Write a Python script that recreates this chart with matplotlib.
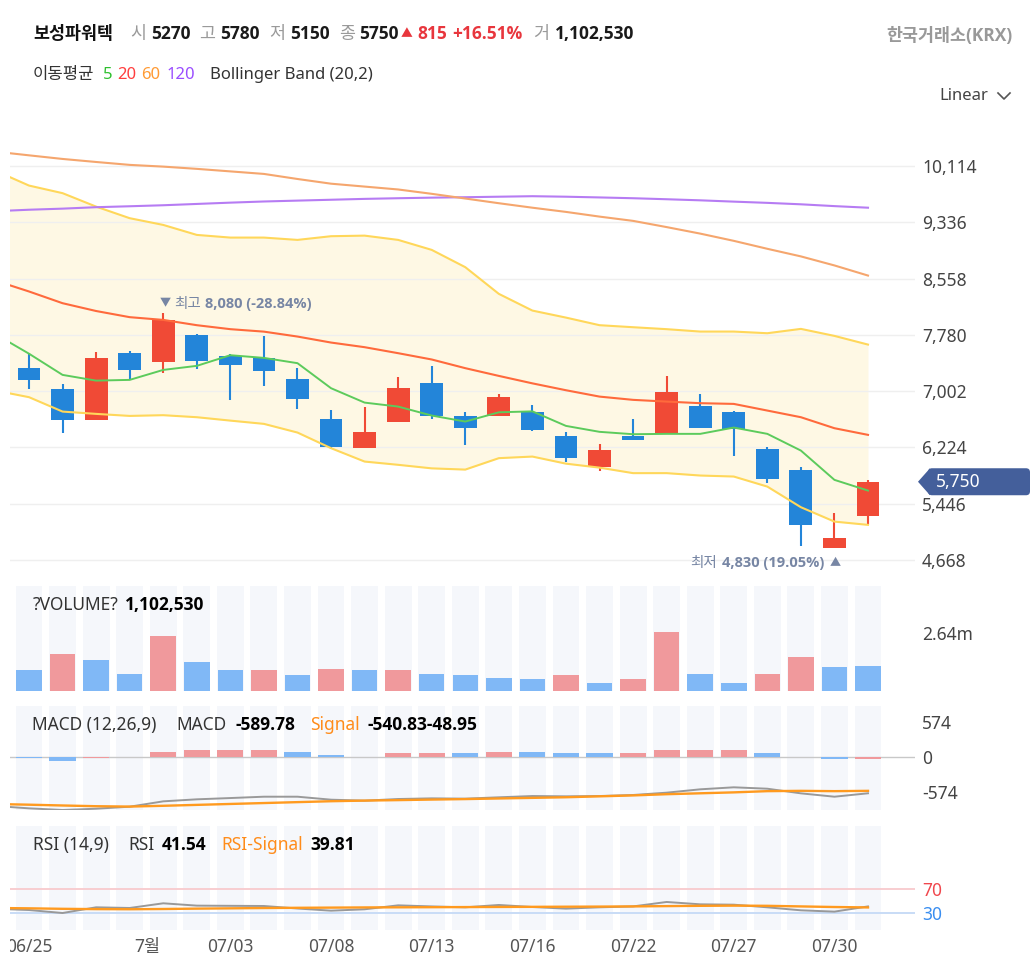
import numpy as np
import matplotlib
matplotlib.use('Agg')
import matplotlib.pyplot as plt
from matplotlib.patches import FancyBboxPatch, Polygon
from matplotlib.lines import Line2D
from matplotlib.transforms import Bbox

plt.rcParams['font.family'] = ['Noto Sans', 'Noto Sans CJK KR', 'DejaVu Sans']
BOLD_FAMILY = ['Open Sans', 'Noto Sans CJK KR', 'DejaVu Sans']

# ---------------- data ----------------
x_labels = ['06/25', '7월', '07/03', '07/08', '07/13', '07/16', '07/22', '07/27', '07/30']
x_label_pos = [0, 3.52, 6, 9, 12, 15, 18, 21, 24]

opens  = [7320, 7030, 6601, 7527, 7407, 7776, 7494, 7462, 7168, 6615, 6212, 6573, 7112,
          6656, 6656, 6717, 6383, 5949, 6383, 6408, 6799, 6716, 6203, 5910, 4840, 5270]
highs  = [7535, 7107, 7541, 7559, 8080, 7794, 7510, 7762, 7328, 6740, 6780, 7200, 7352,
          6717, 6969, 6813, 6438, 6273, 6615, 7209, 6965, 6730, 6231, 5947, 5317, 5780]
lows   = [7038, 6419, 6601, 7154, 7251, 7306, 6882, 7079, 6754, 6205, 6212, 6573, 6615,
          6264, 6656, 6457, 6024, 5894, 6328, 6408, 6495, 6103, 5738, 4860, 4830, 5150]
closes = [7154, 6601, 7462, 7301, 7983, 7425, 7361, 7278, 6892, 6237, 6442, 7048, 6656,
          6490, 6923, 6472, 6079, 6194, 6328, 6988, 6495, 6477, 5793, 5150, 4970, 5750]

volumes = [928000, 1670000, 1400000, 774000, 2490000, 1320000, 928000, 928000, 715000,
           988000, 928000, 928000, 774000, 715000, 578000, 519000, 715000, 364000, 519000,
           2690000, 774000, 364000, 774000, 1530000, 1100000, 1102530]
volume_up = [0, 1, 0, 0, 1, 0, 0, 1, 0, 1, 0, 1, 0, 0, 0, 0, 1, 0, 1, 1, 0, 0, 1, 1, 0, 0]

macd_hist = [-16, -66, -16, 0, 82, 104, 104, 104, 77, 33, 0, 55, 55, 55, 77, 77, 55, 55,
             55, 104, 104, 104, 55, 0, -44, -30]
macd_hist_up = [0, 0, 1, 0, 1, 1, 1, 1, 0, 0, 0, 1, 1, 0, 1, 0, 0, 0, 1, 1, 1, 1, 0, 0, 0, 1]

# line series start one session before the first visible candle (index -1)
macd_line = [-808, -847, -874, -853, -820, -732, -699, -678, -656, -656, -705, -721, -694,
             -683, -688, -666, -645, -650, -645, -628, -590, -535, -502, -525, -601, -656, -600]
signal_line = [-776, -787, -800, -812, -818, -805, -790, -775, -760, -745, -730, -720, -712,
               -703, -695, -685, -675, -665, -650, -635, -615, -600, -585, -565, -560, -565, -560]
rsi_line = [37.5, 35.5, 30.5, 40, 38.9, 46.7, 42.8, 42.5, 42.2, 38, 34.4, 36.7, 43.3, 41.5,
            40, 43.9, 40.5, 37.8, 40, 41.5, 48.9, 45, 44.4, 40, 35, 32.8, 41.5]
rsi_signal = [38.9, 38.3, 37.5, 37.0, 36.8, 37.2, 37.8, 38.3, 38.8, 39.2, 39.5, 39.8, 40,
              40.2, 40.4, 40.6, 40.8, 41, 41.2, 41.5, 42, 42.5, 42.8, 42.5, 41.5, 40.5, 39.8]

ma5   = [7790, 7520, 7227, 7148, 7158, 7296, 7352, 7499, 7462, 7389, 7043, 6844, 6789, 6665,
         6582, 6710, 6723, 6522, 6440, 6407, 6412, 6412, 6499, 6412, 6181, 5776, 5628]
ma20  = [8530, 8380, 8218, 8110, 8025, 7987, 7914, 7859, 7825, 7757, 7674, 7610, 7527, 7440,
         7320, 7213, 7110, 7015, 6927, 6882, 6858, 6836, 6826, 6734, 6642, 6490, 6398]
ma60  = [10313, 10262, 10212, 10170, 10130, 10106, 10075, 10040, 10005, 9935, 9870, 9830,
         9790, 9730, 9665, 9600, 9538, 9480, 9415, 9356, 9270, 9180, 9080, 8970, 8865, 8740, 8600]
ma120 = [9490, 9510, 9525, 9545, 9558, 9572, 9590, 9608, 9624, 9636, 9648, 9660, 9669, 9677,
         9683, 9690, 9697, 9690, 9680, 9669, 9655, 9640, 9622, 9605, 9585, 9560, 9538]
bb_upper = [10049, 9844, 9739, 9553, 9393, 9300, 9162, 9125, 9125, 9093, 9144, 9152, 9093,
            8955, 8716, 8347, 8116, 8019, 7914, 7886, 7859, 7826, 7826, 7803, 7863, 7766, 7646]
bb_lower = [7010, 6919, 6720, 6688, 6660, 6670, 6642, 6595, 6550, 6430, 6214, 6029, 5984,
            5935, 5918, 6076, 6098, 6000, 5945, 5869, 5869, 5836, 5822, 5683, 5398, 5199, 5154]

price_ticks = [4668, 5446, 6224, 7002, 7780, 8558, 9336, 10114]
volume_ticks = [2640000]
volume_tick_labels = ['2.64m']
macd_ticks = [574, 0, -574]
rsi_ticks = [70, 30]

# ---------------- styling ----------------
RED = '#f04a36'
BLUE = '#2385d9'
VRED = '#f0999c'
VBLUE = '#80b8f6'
STRIPE = '#f5f7fb'
W, H = 1033, 968

fig = plt.figure(figsize=(W / 100, H / 100), dpi=100)
fig.patch.set_facecolor('white')

LEFT_PX, RIGHT_PX = 10, 915
X0_PX, STEP_PX = 29.0, 33.56
xlim = ((LEFT_PX - X0_PX) / STEP_PX, (RIGHT_PX - X0_PX) / STEP_PX)


def add_ax(top, bottom):
    a = fig.add_axes([LEFT_PX / W, 1 - bottom / H, (RIGHT_PX - LEFT_PX) / W, (bottom - top) / H])
    a.set_xlim(*xlim)
    for s in a.spines.values():
        s.set_visible(False)
    a.yaxis.tick_right()
    a.tick_params(axis='y', length=0, pad=5, labelsize=12.5, labelcolor='#444')
    a.tick_params(axis='x', length=0)
    a.set_xticks([])
    return a


n = len(closes)
idx = np.arange(n)
idx_ext = np.arange(-1, n)

# ---- main price panel ----
ax = add_ax(135, 575)
ax.set_ylim(4461, 10543)
ax.set_yticks(price_ticks)
ax.set_yticklabels([f'{v:,}' for v in price_ticks])
for v in price_ticks:
    ax.axhline(v, color='#efefef', lw=1, zorder=1.5)
ax.fill_between(idx_ext, bb_lower, bb_upper, color='#fef8e4', lw=0, zorder=1)

cols = [RED if c >= o else BLUE for o, c in zip(opens, closes)]
ax.vlines(idx, lows, highs, colors=cols, lw=1.5, zorder=2)
bottoms = [min(o, c) for o, c in zip(opens, closes)]
heights = [max(abs(c - o), 40) for o, c in zip(opens, closes)]
ax.bar(idx, heights, bottom=bottoms, width=0.68, color=cols, zorder=3)

ax.plot(idx_ext, bb_upper, color='#ffd75a', lw=1.5, zorder=4)
ax.plot(idx_ext, bb_lower, color='#ffd75a', lw=1.5, zorder=4)
ax.plot(idx_ext, ma120, color='#b67cf3', lw=1.5, zorder=4)
ax.plot(idx_ext, ma60, color='#f5a66e', lw=1.5, zorder=4)
ax.plot(idx_ext, ma20, color='#ff6a3c', lw=1.5, zorder=4)
ax.plot(idx_ext, ma5, color='#5ccb5c', lw=1.4, zorder=4)

# ---- volume panel ----
axv = add_ax(586, 690.7)
axv.set_ylim(0, 4.766e6)
for i in idx:
    axv.axvspan(i - 0.40, i + 0.40, color=STRIPE, lw=0, zorder=0)
axv.bar(idx, volumes, width=0.76, color=[VRED if u else VBLUE for u in volume_up], zorder=2)
axv.set_yticks(volume_ticks)
axv.set_yticklabels(volume_tick_labels)

# ---- MACD panel ----
axm = add_ax(706, 810)
axm.set_ylim(-874, 831)
for i in idx:
    axm.axvspan(i - 0.40, i + 0.40, color=STRIPE, lw=0, zorder=0)
axm.axhline(0, color='#c8c8c8', lw=1, zorder=1)
axm.bar(idx, macd_hist, width=0.78, color=[VRED if u else VBLUE for u in macd_hist_up], zorder=2)
axm.plot(idx_ext, macd_line, color='#999999', lw=1.4, zorder=3)
axm.plot(idx_ext, signal_line, color='#ff9a1f', lw=1.7, zorder=4)
axm.set_yticks(macd_ticks)
axm.set_yticklabels([str(v) for v in macd_ticks])

# ---- RSI panel ----
axr = add_ax(826, 930)
axr.set_ylim(2.2, 175.5)
for i in idx:
    axr.axvspan(i - 0.40, i + 0.40, color=STRIPE, lw=0, zorder=0)
axr.axhline(70, color='#f8cdd0', lw=1.4, zorder=1)
axr.axhline(30, color='#c8dcf6', lw=1.4, zorder=1)
axr.plot(idx_ext, rsi_line, color='#999999', lw=1.4, zorder=3)
axr.plot(idx_ext, rsi_signal, color='#ff9a1f', lw=1.7, zorder=4)
axr.set_yticks(rsi_ticks)
axr.set_yticklabels([str(v) for v in rsi_ticks])
for lbl, c in zip(axr.get_yticklabels(), ['#f0474d', '#3a8ef0']):
    lbl.set_color(c)
axr.set_xticks(x_label_pos)
axr.set_xticklabels(x_labels)
axr.tick_params(axis='x', length=0, pad=6, labelsize=12.5, labelcolor='#555')
clipbox = Bbox.from_extents(LEFT_PX, 0, W, H)
for lbl in axr.get_xticklabels():
    lbl.set_clip_box(clipbox)
    lbl.set_clip_on(True)

# ---------------- overlay for texts ----------------
ov = fig.add_axes([0, 0, 1, 1], zorder=10)
ov.set_xlim(0, W)
ov.set_ylim(H, 0)
ov.axis('off')
ov.patch.set_visible(False)
renderer = fig.canvas.get_renderer()


def run(x, y, pieces, ha='left'):
    made = []
    for s, kw, gap in pieces:
        kw = dict(kw)
        if kw.get('fontweight') == 'bold':
            kw['family'] = BOLD_FAMILY
        t = ov.text(0, y, s, ha='left', va='center', **kw)
        w = t.get_window_extent(renderer).width
        made.append((t, w, gap))
    total = sum(w for _, w, _ in made) + sum(g for _, _, g in made[:-1])
    cur = x if ha == 'left' else x - total
    for t, w, g in made:
        t.set_x(cur)
        cur += w + g


def to_px(a, x, y):
    d = a.transData.transform((x, y))
    return d[0], H - d[1]


GREY = '#9a9a9a'
DARK = '#1a1a1a'
TXT = '#333333'
HR = '#e8363d'
b = dict(fontweight='bold')

run(33, 34, [
    ('보성파워텍', dict(fontsize=12.5, color='#111', fontweight='bold'), 17),
    ('시', dict(fontsize=12.5, color=GREY), 5),
    ('5270', dict(fontsize=12.5, color=DARK, **b), 9),
    ('고', dict(fontsize=12.5, color=GREY), 5),
    ('5780', dict(fontsize=12.5, color=DARK, **b), 9),
    ('저', dict(fontsize=12.5, color=GREY), 5),
    ('5150', dict(fontsize=12.5, color=DARK, **b), 9),
    ('종', dict(fontsize=12.5, color=GREY), 5),
    ('5750', dict(fontsize=12.5, color=DARK, **b), 2),
    ('▲', dict(fontsize=8.5, color=HR), 5),
    ('815', dict(fontsize=12.5, color=HR, **b), 5),
    ('+16.51%', dict(fontsize=12.5, color=HR, **b), 10),
    ('거', dict(fontsize=12.5, color=GREY), 6),
    ('1,102,530', dict(fontsize=12.5, color=DARK, **b), 0),
])
ov.text(1013, 36, '한국거래소(KRX)', ha='right', va='center', fontsize=12.5, color='#999999',
        fontweight='bold', family=BOLD_FAMILY)

run(33, 75, [
    ('이동평균', dict(fontsize=12, color=TXT), 8),
    ('5', dict(fontsize=12, color='#2fc02f'), 5),
    ('20', dict(fontsize=12, color='#ff3e3e'), 5),
    ('60', dict(fontsize=12, color='#ff9a33'), 6),
    ('120', dict(fontsize=12, color='#9a4dff'), 15),
    ('Bollinger Band (20,2)', dict(fontsize=12, color=TXT), 0),
])
ov.text(939, 96, 'Linear', ha='left', va='center', fontsize=12, color='#444')
ov.add_line(Line2D([998, 1004, 1010], [93, 99, 93], color='#555', lw=1.2))

run(33, 605, [
    ('?VOLUME?', dict(fontsize=12.5, color=TXT), 6),
    ('1,102,530', dict(fontsize=12.5, color='#000', **b), 0),
])
run(32, 725, [
    ('MACD (12,26,9)', dict(fontsize=12.5, color=TXT), 20),
    ('MACD', dict(fontsize=12.5, color=TXT), 9),
    ('-589.78', dict(fontsize=12.5, color='#000', **b), 15),
    ('Signal', dict(fontsize=12.5, color='#ff8c1a'), 8),
    ('-540.83-48.95', dict(fontsize=12.5, color='#000', **b), 0),
])
run(33, 845, [
    ('RSI (14,9)', dict(fontsize=12.5, color=TXT), 19),
    ('RSI', dict(fontsize=12.5, color=TXT), 8),
    ('41.54', dict(fontsize=12.5, color='#000', **b), 15),
    ('RSI-Signal', dict(fontsize=12.5, color='#ff8c1a'), 7),
    ('39.81', dict(fontsize=12.5, color='#000', **b), 0),
])

# high / low annotations
ANN = '#7786a4'
hi_i = int(np.argmax(highs))
hx, hy = to_px(ax, hi_i, highs[hi_i])
run(hx - 4, hy - 9, [
    ('▼', dict(fontsize=8, color=ANN), 4),
    ('최고', dict(fontsize=10.5, color=ANN), 4),
    ('8,080 (-28.84%)', dict(fontsize=10.5, color=ANN, **b), 0),
])
lo_i = int(np.argmin(lows))
lx, ly = to_px(ax, lo_i, lows[lo_i])
run(lx + 6, ly + 15, [
    ('최저', dict(fontsize=10.5, color=ANN), 5),
    ('4,830 (19.05%)', dict(fontsize=10.5, color=ANN, **b), 5),
    ('▲', dict(fontsize=8, color=ANN), 0),
], ha='right')

# last price tag
TAG = '#445f9b'
_, ty = to_px(ax, n - 1, closes[-1])
ov.add_patch(Polygon([(918, ty), (930, ty - 13.5), (930, ty + 13.5)], closed=True,
                     facecolor=TAG, edgecolor='none'))
ov.add_patch(FancyBboxPatch((928, ty - 13.5), 102, 27, boxstyle='round,pad=0,rounding_size=4',
                            facecolor=TAG, edgecolor='none'))
ov.text(936, ty, f'{closes[-1]:,}', ha='left', va='center', fontsize=12.5, color='white')

fig.savefig('out.png', dpi=100)
